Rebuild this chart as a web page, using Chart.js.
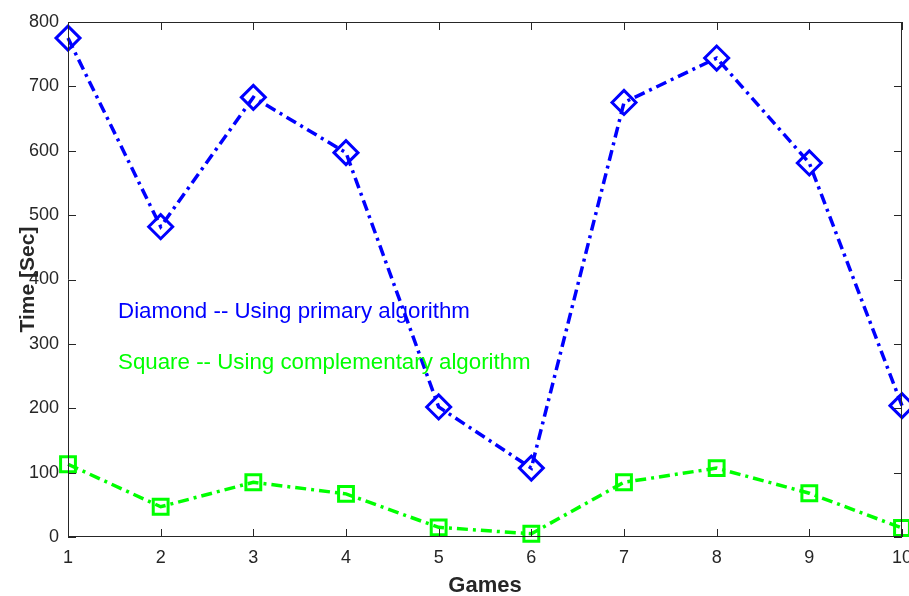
<!DOCTYPE html>
<html><head><meta charset="utf-8">
<script src="https://cdn.jsdelivr.net/npm/chart.js@4/dist/chart.umd.min.js"></script>
<style>html,body{margin:0;padding:0;background:#fff;overflow:hidden}#wrap{width:909px;height:596px;overflow:hidden}</style>
</head><body><div id="wrap"><canvas id="c" width="922" height="596"></canvas></div>
<script>
const games = [1,2,3,4,5,6,7,8,9,10];
const primaryTimes = [775,482,683,597,202,107,675,744,581,204];
const complementaryTimes = [113,47,85,67,15,5,85,107,68,14];
const yTicks = [0,100,200,300,400,500,600,700,800];
const notes = [
  {text:'Diamond -- Using primary algorithm', color:'#0000ff', x:1.54, y:349},
  {text:'Square -- Using complementary algorithm', color:'#00ff00', x:1.54, y:271}
];
const axisColor = '#262626';
const FONT = '"Liberation Sans", Helvetica, Arial, sans-serif';

const frame = {
  id:'frame',
  afterDatasetsDraw(chart){
    const {ctx, chartArea:a, scales:{x,y}} = chart;
    ctx.save();
    ctx.strokeStyle = axisColor; ctx.lineWidth = 1;
    ctx.beginPath();
    ctx.rect(a.left+0.5, a.top+0.5, a.right-a.left-1, a.bottom-a.top-1);
    const L = 8;
    games.forEach(g=>{const px=Math.round(x.getPixelForValue(g))+0.5;
      ctx.moveTo(px,a.bottom); ctx.lineTo(px,a.bottom-L);
      ctx.moveTo(px,a.top); ctx.lineTo(px,a.top+L);});
    yTicks.forEach(v=>{const py=Math.round(y.getPixelForValue(v))+0.5;
      ctx.moveTo(a.left,py); ctx.lineTo(a.left+L,py);
      ctx.moveTo(a.right,py); ctx.lineTo(a.right-L,py);});
    ctx.stroke();
    ctx.font = '22.3px ' + FONT;
    ctx.textBaseline = 'middle'; ctx.textAlign = 'left';
    notes.forEach(n=>{ctx.fillStyle=n.color; ctx.fillText(n.text, x.getPixelForValue(n.x), y.getPixelForValue(n.y));});
    ctx.restore();
  }
};

new Chart(document.getElementById('c'), {
  type:'line',
  data:{datasets:[
    {data:games.map((g,i)=>({x:g,y:primaryTimes[i]})), borderColor:'#0000ff', borderWidth:3.5,
     borderDash:[11,5,3,5], pointStyle:'rectRot', pointRadius:12, pointBorderWidth:3,
     pointBackgroundColor:'rgba(0,0,0,0)', pointBorderColor:'#0000ff', fill:false, tension:0},
    {data:games.map((g,i)=>({x:g,y:complementaryTimes[i]})), borderColor:'#00ff00', borderWidth:3.5,
     borderDash:[11,5,3,5], pointStyle:'rect', pointRadius:10.5, pointBorderWidth:3,
     pointBackgroundColor:'rgba(0,0,0,0)', pointBorderColor:'#00ff00', fill:false, tension:0}
  ]},
  options:{
    responsive:false, animation:false, clip:false,
    layout:{padding:{top:22, right:0, left:0, bottom:0}},
    plugins:{legend:{display:false}, tooltip:{enabled:false}},
    scales:{
      x:{type:'linear', min:1, max:10,
         afterBuildTicks(s){s.ticks=games.map(v=>({value:v}));},
         afterFit(s){s.height=59;},
         grid:{display:false, tickLength:0}, border:{display:false},
         ticks:{color:axisColor, font:{family:FONT, size:18}, padding:10, maxRotation:0, autoSkip:false},
         title:{display:true, text:'Games', color:axisColor, font:{family:FONT, size:22, weight:'bold'}, padding:{top:0,bottom:-3}}},
      y:{type:'linear', min:0, max:800,
         afterBuildTicks(s){s.ticks=yTicks.map(v=>({value:v}));},
         afterFit(s){s.width=68;},
         grid:{display:false, tickLength:0}, border:{display:false},
         ticks:{color:axisColor, font:{family:FONT, size:18}, padding:9},
         title:{display:true, text:'Time [Sec]', color:axisColor, font:{family:FONT, size:21, weight:'bold'}, padding:{top:16,bottom:0}}}
    }
  },
  plugins:[frame]
});
</script></body></html>
